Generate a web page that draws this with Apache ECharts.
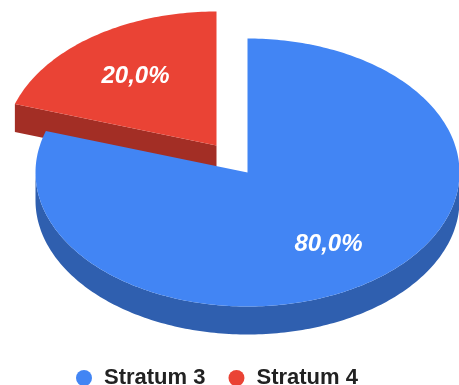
<!DOCTYPE html>
<html>
<head>
<meta charset="utf-8">
<style>html,body{margin:0;padding:0;background:#fff}#c{width:459px;height:385px}</style>
<script src="https://cdn.jsdelivr.net/npm/echarts@6/dist/echarts.min.js"></script>
</head>
<body>
<div id="c"></div>
<script>
const categories = ['Stratum 3', 'Stratum 4'];
const values = [80, 20];
const topColors = ['#4285F4', '#EA4335'];
const wallColors = ['#2F5FAF', '#A32E25'];

const apex = [247.5, 172.5];
const radiusX = 212;
const radiusY = 134;
const depth = 28;
const explode = [0, 1];
const explodeOffset = [-31, -27];
const labelRadius = 0.65;

const total = values.reduce((a, b) => a + b, 0);
const starts = [];
values.reduce((acc, v, i) => { starts[i] = acc; return acc + v; }, 0);

function pt(c, deg, f, dy) {
  const r = deg * Math.PI / 180;
  return [c[0] + radiusX * f * Math.sin(r), c[1] - radiusY * f * Math.cos(r) + (dy || 0)];
}
function arc(c, a0, a1, dy) {
  const pts = [];
  const n = Math.max(2, Math.ceil(Math.abs(a1 - a0)));
  for (let k = 0; k <= n; k++) pts.push(pt(c, a0 + (a1 - a0) * k / n, 1, dy));
  return pts;
}
function makeRender(i) {
  return function (params, api) {
    const v = api.value(0);
    const a0 = starts[i] / total * 360;
    const a1 = a0 + v / total * 360;
    const c = [apex[0] + explode[i] * explodeOffset[0], apex[1] + explode[i] * explodeOffset[1]];
    const children = [];
    const wall = { fill: wallColors[i] };
    const lo = Math.max(a0, 90), hi = Math.min(a1, 270);
    if (hi > lo) {
      const outer = arc(c, lo, hi, 0).concat(arc(c, hi, lo, depth));
      children.push({ type: 'polygon', shape: { points: outer }, style: wall });
    }
    const edge = a => {
      const p = pt(c, a, 1, 0);
      children.push({ type: 'polygon', shape: { points: [c, p, [p[0], p[1] + depth], [c[0], c[1] + depth]] }, style: wall });
    };
    if (a0 > 180 && a0 < 360) edge(a0);
    if (a1 > 0 && a1 < 180) edge(a1);
    children.push({
      type: 'polygon',
      shape: { points: [c].concat(arc(c, a0, a1, 0)) },
      style: { fill: topColors[i] }
    });
    const m = pt(c, (a0 + a1) / 2, labelRadius, 1.5);
    children.push({
      type: 'text',
      x: m[0], y: m[1],
      style: {
        text: (v / total * 100).toFixed(1).replace('.', ',') + '%',
        fill: '#fff',
        font: 'italic bold 24px "Liberation Sans", Arial, sans-serif',
        align: 'center',
        verticalAlign: 'middle'
      }
    });
    return { type: 'group', children };
  };
}

const series = categories.map((name, i) => ({
  type: 'custom',
  name,
  coordinateSystem: 'none',
  renderItem: makeRender(i),
  data: [[values[i]]],
  itemStyle: { color: topColors[i] },
  z: 2 - i,
  silent: true,
  animation: false
}));

const chart = echarts.init(document.getElementById('c'), null, { renderer: 'canvas' });
chart.setOption({
  animation: false,
  legend: {
    data: categories,
    left: 76,
    top: 367,
    padding: 0,
    icon: 'circle',
    itemWidth: 16,
    itemHeight: 16,
    itemGap: 23,
    textStyle: {
      color: '#222',
      fontFamily: '"Liberation Sans", Arial, sans-serif',
      fontWeight: 'bold',
      fontSize: 22,
      padding: [0, 0, 0, 7]
    }
  },
  series
});
</script>
</body>
</html>
